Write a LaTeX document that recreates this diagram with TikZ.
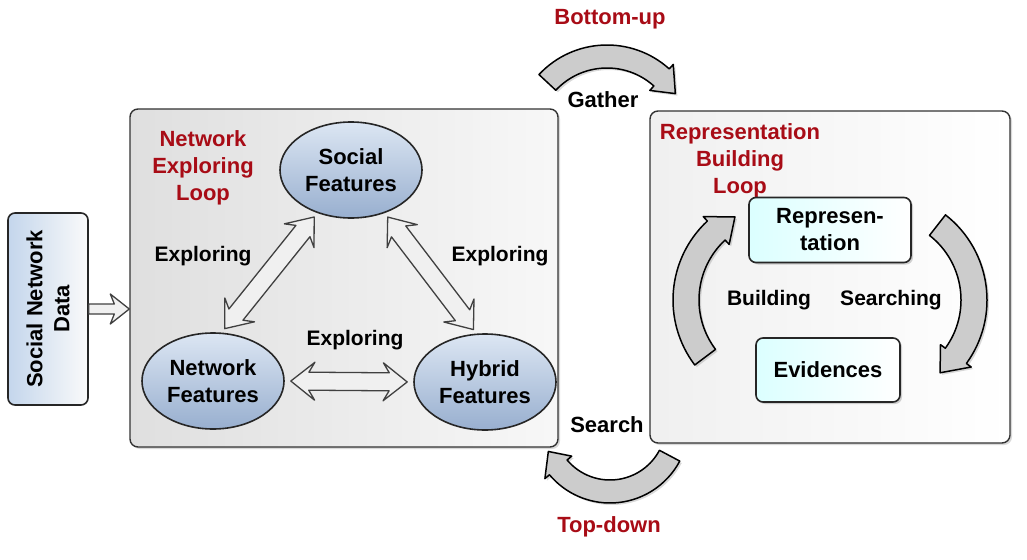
\documentclass[tikz,border=0pt]{standalone}
\usepackage{fontspec}
\setmainfont{Liberation Sans}
\usetikzlibrary{positioning, shapes.geometric, calc, shadows}

\definecolor{titlered}{RGB}{168,12,22}
\definecolor{featlight}{RGB}{220,230,243}
\definecolor{featdark}{RGB}{152,175,207}
\definecolor{datablue}{RGB}{196,214,236}

% fat arrow with a head at both ends
\newcommand{\fatdbl}[2]{%
  \draw[fatline] (#1)
    -- ($(#1)!24pt!(#2)!19pt!90:(#2)$) -- ($(#1)!18pt!(#2)!9pt!90:(#2)$)
    -- ($(#2)!18pt!(#1)!9pt!-90:(#1)$) -- ($(#2)!24pt!(#1)!19pt!-90:(#1)$)
    -- (#2)
    -- ($(#2)!24pt!(#1)!19pt!90:(#1)$) -- ($(#2)!18pt!(#1)!9pt!90:(#1)$)
    -- ($(#1)!18pt!(#2)!9pt!-90:(#2)$) -- ($(#1)!24pt!(#2)!19pt!-90:(#2)$)
    -- cycle;}

% fat arrow with one head
\newcommand{\fatone}[2]{%
  \draw[fatline] ($(#1)!5pt!90:(#2)$)
    -- ($(#2)!15pt!(#1)!5pt!-90:(#1)$) -- ($(#2)!19pt!(#1)!15pt!-90:(#1)$)
    -- (#2)
    -- ($(#2)!19pt!(#1)!15pt!90:(#1)$) -- ($(#2)!15pt!(#1)!5pt!90:(#1)$)
    -- ($(#1)!5pt!-90:(#2)$) -- cycle;}

% bent arrow: centre, inner r, outer r, start, end of body, tip, flare
\newcommand{\fatarc}[7]{%
  \pgfmathsetmacro\arcmid{(#2+#3)/2}
  \pgfmathsetmacro\arcout{#3+#7}
  \pgfmathsetmacro\arcin{#2-#7}
  \draw[fatcurve] ($(#1)+(#4:#3)$) arc[start angle=#4, end angle=#5, radius=#3]
    -- ($(#1)+(#5:\arcout)$) -- ($(#1)+(#6:\arcmid)$) -- ($(#1)+(#5:\arcin)$)
    -- ($(#1)+(#5:#2)$) arc[start angle=#5, end angle=#4, radius=#2] -- cycle;}

\begin{document}
\begin{tikzpicture}[x=1pt, y=1pt,
    feat/.style={ellipse, draw=black!85, line width=1.6pt, top color=featlight, bottom color=featdark, minimum width=142pt, minimum height=96pt, inner sep=0pt, align=center, font=\bfseries\fontsize{22}{27}\selectfont},
    tbox/.style={rectangle, rounded corners=7pt, draw=black!85, line width=1.6pt, left color=cyan!14, right color=white, drop shadow={shadow xshift=2pt, shadow yshift=-2pt, opacity=0.35}, align=center, font=\bfseries\fontsize{22}{27}\selectfont},
    panel/.style={rectangle, rounded corners=8pt, draw=black!80, line width=1.4pt, drop shadow={shadow xshift=2pt, shadow yshift=-2pt, opacity=0.3}},
    looptitle/.style={text=titlered, align=center, inner sep=0pt, font=\bfseries\fontsize{22}{27}\selectfont},
    lbl/.style={inner sep=0pt, font=\bfseries\fontsize{21}{26}\selectfont},
    fatline/.style={draw=black!75, line width=1.3pt, fill=gray!12, line join=round},
    fatcurve/.style={draw=black, line width=1.5pt, fill=gray!40, line join=round, drop shadow={shadow xshift=2pt, shadow yshift=-2pt, opacity=0.3}}
    ]
    \useasboundingbox (0,0) rectangle (1027,-559);

    % Panels
    \node[panel, left color=gray!25, right color=gray!6, minimum width=428pt, minimum height=338pt] (lpanel) at (344,-278) {};
    \node[panel, left color=gray!12, right color=white, minimum width=360pt, minimum height=332pt] (rpanel) at (830,-277) {};

    % Input data
    \node[rectangle, rounded corners=7pt, draw=black!85, line width=1.6pt, rotate=90, left color=datablue, right color=gray!4, minimum width=192pt, minimum height=80pt, align=center, font=\bfseries\fontsize{22}{27}\selectfont] (sndata) at (48,-309) {Social Network\\Data};
    \coordinate (sndin) at (sndata.south -| lpanel.west);
    \fatone{sndata.south}{sndin}

    % Network exploring loop
    \node[looptitle] (nettitle) at (203,-168) {Network\\Exploring\\Loop};
    \node[feat] (soc) at (351,-170) {Social\\Features};
    \node[feat] (net) at (213,-381) {Network\\Features};
    \node[feat] (hyb) at (485,-382) {Hybrid\\Features};

    \coordinate (e1) at ($(net.80)!5pt!(soc.232)$);
    \coordinate (e2) at ($(soc.232)!5pt!(net.80)$);
    \coordinate (e3) at ($(soc.308)!5pt!(hyb.100)$);
    \coordinate (e4) at ($(hyb.100)!5pt!(soc.308)$);
    \coordinate (e5) at ($(net.east)!6pt!(hyb.west)$);
    \coordinate (e6) at ($(hyb.west)!6pt!(net.east)$);
    \fatdbl{e1}{e2}
    \fatdbl{e3}{e4}
    \fatdbl{e5}{e6}
    \node[lbl] (ex1) at (203,-256) {Exploring};
    \node[lbl] (ex2) at (500,-256) {Exploring};
    \node[lbl] (ex3) at (355,-340) {Exploring};

    % Representation building loop
    \node[looptitle] (reptitle) at (740,-161) {Representation\\Building\\Loop};
    \node[tbox, minimum width=162pt, minimum height=65pt] (repr) at (830,-230) {Represen-\\tation};
    \node[tbox, minimum width=144pt, minimum height=64pt] (evid) at (828,-370) {Evidences};
    \coordinate (bc) at (781,-300);
    \coordinate (rc) at (879,-300);
    \fatarc{bc}{82}{108}{217}{133}{119}{6}
    \fatarc{rc}{82}{108}{52}{-36}{-50}{6}
    \node[lbl] (build) at (769,-300) {Building};
    \node[lbl] (srch) at (891,-300) {Searching};

    % Gather and search between the loops
    \coordinate (gc) at (607,-138);
    \coordinate (sc) at (610,-424);
    \fatarc{gc}{70}{93}{137}{48}{33}{6}
    \fatarc{sc}{56}{79}{-28}{-140}{-156}{6}
    \node[looptitle] (bup) at (610,-19) {Bottom-up};
    \node[lbl, font=\bfseries\fontsize{22}{27}\selectfont] (gath) at (603,-100) {Gather};
    \node[lbl, font=\bfseries\fontsize{22}{27}\selectfont] (srchb) at (607,-425) {Search};
    \node[looptitle] (tdown) at (609,-527) {Top-down};
\end{tikzpicture}
\end{document}
